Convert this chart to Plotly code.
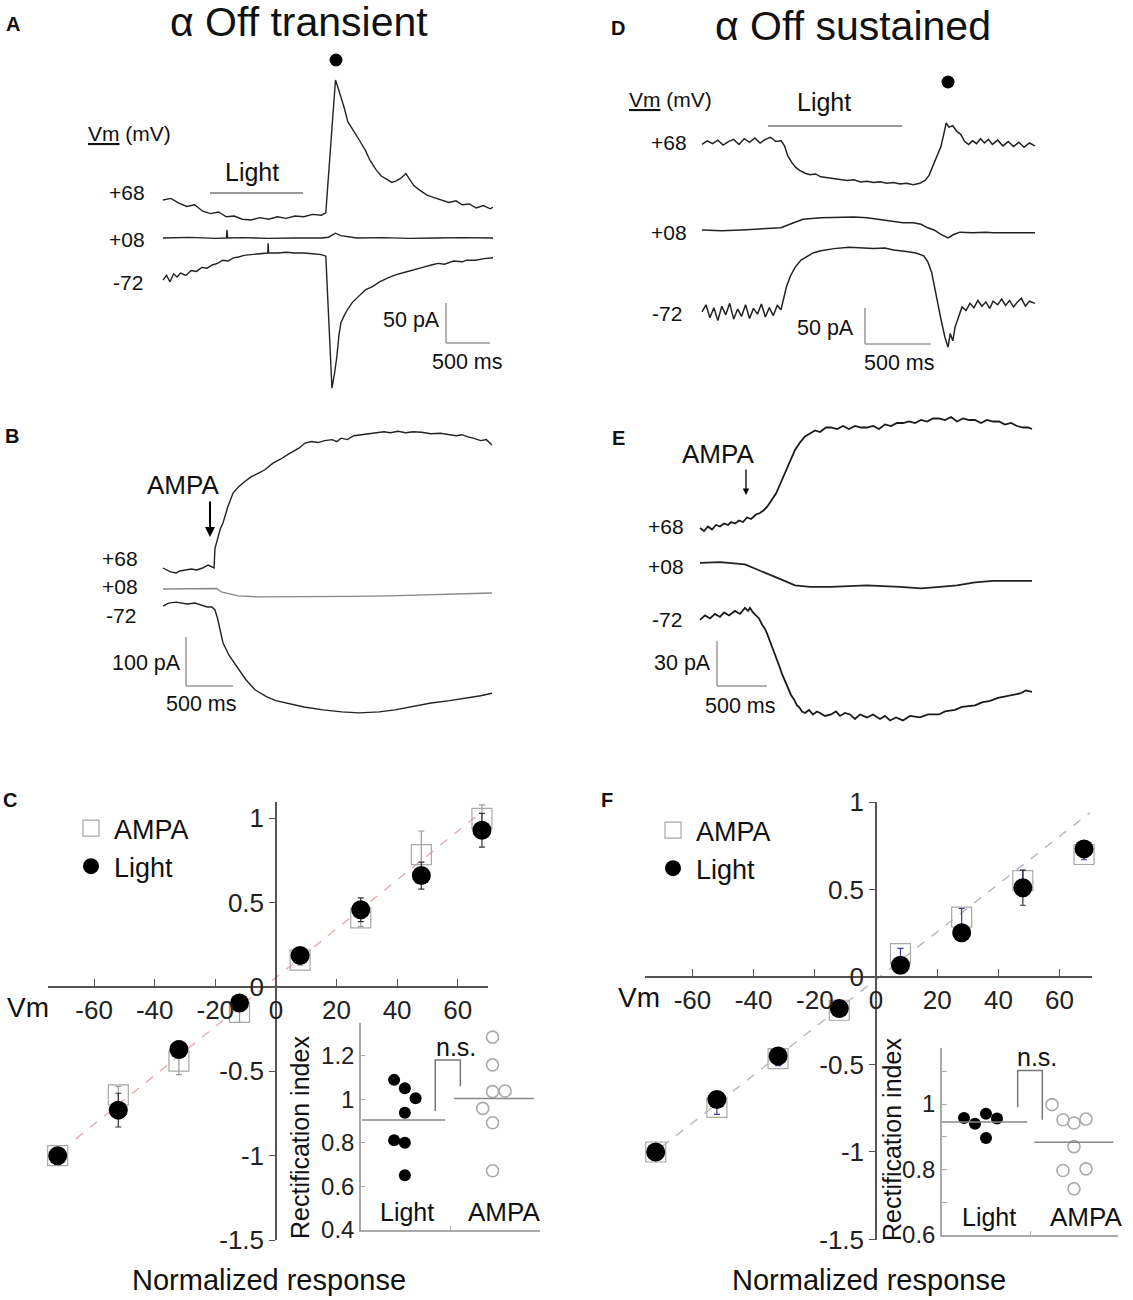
import plotly.graph_objects as go

W, H = 1133, 1300
FONT = "Liberation Sans, Arial, sans-serif"

# ---- current traces (time in ms, current in pA from each trace's own start) ----
# A: alpha Off transient, light response
a68_t = [0, 90, 180, 270, 360, 450, 540, 630, 720, 810, 900, 1000, 1100, 1200, 1300, 1400, 1500, 1600, 1700, 1800,
         1850, 1960, 1990, 2020, 2060, 2100, 2160, 2230, 2300, 2350, 2420, 2480, 2540, 2600, 2650, 2700, 2760, 2800,
         2850, 2920, 3000, 3080, 3160, 3250, 3330, 3400, 3480, 3560, 3640, 3720, 3750]
a68_i = [0, 2, -4, -8, -6, -14, -17, -15, -21, -20, -24, -25, -22, -24, -21, -23, -20, -21, -18, -19,
         -16, 150, 140, 130, 115, 98, 88, 75, 62, 50, 38, 30, 26, 22, 24, 27, 33, 26,
         18, 12, 6, 3, 0, -3, -1, -6, -5, -10, -7, -11, -9]
a08_t = [0, 300, 600, 720, 727, 735, 900, 1200, 1500, 1800, 1880, 1960, 2020, 2100, 2200, 2500, 2800, 3100, 3400, 3750]
a08_i = [0, 0.8, -0.5, 0, 10, 0, 0.5, -0.5, 0, 0, 1, 6, 3, 2, 0, 0.5, -0.5, 0, 0.5, 0]
a72_t = [0, 40, 80, 120, 160, 200, 260, 320, 380, 440, 500, 560, 620, 680, 740, 800, 860, 920, 1000, 1100,
         1190, 1195, 1200, 1300, 1400, 1500, 1600, 1700, 1800, 1850, 1890, 1920, 1950, 1975, 2000, 2022, 2060, 2100,
         2150, 2220, 2300, 2380, 2460, 2556, 2650, 2750, 2840, 2950, 3050, 3124, 3200, 3300, 3400, 3454, 3550, 3650, 3750]
a72_i = [-4, 2, -6, 4, 0, 5, 2, 8, 7, 12, 11, 15, 17, 21, 20, 24, 25, 27, 28, 29,
         30, 42, 30, 30, 31, 30, 30, 29, 28, 26, -60, -139, -120, -100, -72, -57, -48, -40,
         -32, -25, -16, -12, -6, -1, 3, 6, 9, 12, 15, 17, 16, 20, 19, 21, 21, 23, 24]

# B: alpha Off transient, AMPA puff
b68_t = [0, 40, 80, 138, 180, 240, 300, 360, 420, 479, 520, 543, 553, 580, 610, 638, 690, 745, 800, 860,
         936, 1000, 1080, 1170, 1250, 1330, 1400, 1450, 1511, 1580, 1650, 1720, 1800, 1850, 1894, 1960, 2030, 2100,
         2180, 2277, 2350, 2420, 2500, 2580, 2660, 2750, 2850, 2950, 3043, 3120, 3180, 3234, 3300, 3380, 3440, 3500]
b68_i = [0, -4, -8, -10, -6, -4, -2, -4, 0, 6, 3, 0, 40, 62, 80, 92, 125, 153, 165, 175,
         186, 192, 200, 214, 222, 232, 240, 245, 255, 258, 256, 260, 262, 258, 265, 262, 270, 272,
         274, 276, 278, 276, 279, 276, 278, 277, 274, 275, 272, 270, 272, 268, 265, 260, 262, 251]
b08_t = [0, 200, 400, 530, 570, 620, 700, 800, 1000, 1300, 1600, 2000, 2400, 2800, 3200, 3500]
b08_i = [0, 0.5, 0, 1, 1, -6, -10, -14, -16, -16, -16, -15, -14, -12, -10, -8]
b72_t = [0, 60, 138, 200, 260, 340, 400, 470, 520, 553, 580, 610, 638, 700, 787, 880, 978, 1100, 1200, 1319,
         1500, 1702, 1900, 2085, 2300, 2468, 2650, 2851, 3050, 3234, 3380, 3500]
b72_i = [0, 6, 8, 6, 4, 6, 2, -2, -2, -8, -25, -50, -75, -100, -124, -150, -171, -185, -193, -198,
         -206, -212, -216, -218, -216, -212, -206, -198, -193, -188, -183, -178]

# D: alpha Off sustained, light response
d68_t = [0, 40, 80, 120, 160, 200, 240, 280, 320, 360, 400, 440, 480, 520, 560, 600,
         625, 650, 680, 710, 740, 780, 820, 860, 900,
         950, 1000, 1050, 1100, 1150, 1200, 1250, 1300, 1350, 1400, 1450, 1500, 1550, 1600, 1650,
         1690, 1720, 1750, 1780, 1810, 1835, 1850, 1870, 1900, 1930, 1960, 1990, 2020, 2050, 2080, 2110, 2140, 2170, 2200,
         2240, 2280, 2320, 2360, 2400, 2440, 2480, 2523]
d68_i = [-2, 3, -1, 4, -3, 2, 5, -2, 6, 1, 7, 0, 5, 8, 2, 3,
         -4, -18, -27, -34, -38, -42, -44, -43, -47,
         -48, -49, -51, -52, -51, -54, -53, -55, -54, -56, -55, -57, -56, -58, -56,
         -52, -45, -32, -20, -5, 15, 28, 22, 24, 16, 12, 2, -2, 3, -1, 6, 0, 5, -2,
         4, -4, 2, -5, 1, -6, 0, -4]
d08_t = [0, 150, 300, 450, 598, 680, 765, 900, 1030, 1150, 1250, 1400, 1523, 1600, 1659, 1710, 1758, 1810, 1864, 1910,
         1955, 2050, 2150, 2205, 2350, 2523]
d08_i = [0, -1, 0, 1, 3, 9, 15, 17, 18, 18, 17, 13, 10, 10, 8, 3, 0, -6, -11, -6,
         -3, -4, -3, -4, -4, -4]
d72_t = [0, 30, 60, 90, 120, 150, 180, 210, 240, 270, 300, 330, 360, 390, 420, 450, 480, 510, 540, 570,
         598, 620, 640, 670, 705, 750, 800, 841, 900, 1000, 1114, 1200, 1300, 1386, 1450, 1550, 1620, 1680, 1710, 1740,
         1760, 1780, 1810, 1840, 1864, 1880, 1900, 1917, 1945, 1970, 2000, 2030, 2060, 2090, 2120, 2150, 2180, 2205,
         2240, 2270, 2300, 2330, 2360, 2390, 2420, 2450, 2480, 2523]
d72_i = [0, 10, -8, 6, -12, 8, -4, 12, -10, 4, -6, 10, -9, 5, -3, 11, -7, 6, -5, 9,
         3, 20, 35, 50, 62, 72, 78, 82, 85, 88, 90, 89, 88, 89, 86, 84, 82, 78, 70, 55,
         35, 17, -10, -35, -49, -30, -40, -21, -5, 7, 2, 12, 6, 16, 8, 14, 5, 15,
         10, 18, 9, 16, 7, 14, 19, 8, 15, 12]

# E: alpha Off sustained, AMPA puff
e68_t = [0, 40, 80, 120, 160, 200, 240, 280, 310, 350, 390, 430, 470, 510, 560, 600, 640, 670, 700, 730,
         760, 800, 850, 900, 950, 1000, 1050, 1100, 1150, 1200, 1260, 1310, 1370, 1430, 1490, 1550, 1610, 1670,
         1730, 1790, 1850, 1910, 1970, 2030, 2090, 2150, 2210, 2270, 2330, 2390, 2450, 2510, 2570, 2630, 2690,
         2750, 2810, 2870, 2930, 2990, 3050, 3110, 3170, 3230, 3280, 3320]
e68_i = [0, -2, 1, -1, 2, 1, 3, 2, 4, 3, 5, 4, 7, 6, 9, 10, 12, 14, 17, 20,
         23, 29, 37, 45, 52, 57, 61, 63, 65, 64, 67, 67, 66, 68, 66, 68, 67, 67,
         68, 66, 69, 68, 70, 70, 71, 70, 72, 71, 73, 73, 72, 74, 71, 73, 72,
         72, 70, 72, 71, 71, 69, 70, 68, 67, 67, 66]
e08_t = [0, 200, 450, 600, 810, 950, 1100, 1310, 1500, 1670, 2000, 2210, 2400, 2570, 2750, 2930, 3110, 3320]
e08_i = [0, 0.5, -1, -5, -11, -15, -16, -16, -15.5, -15, -16, -17, -16, -15, -13, -12, -12, -12]
e72_t = [0, 50, 100, 150, 200, 240, 290, 350, 400, 450, 480, 500, 530, 560, 590, 620, 650, 670, 700, 720,
         750, 770, 800, 820, 850, 880, 910, 940, 970, 990, 1020, 1050, 1090, 1130, 1170, 1200, 1250, 1310, 1360,
         1400, 1450, 1500, 1550, 1600, 1670, 1730, 1800, 1850, 1900, 1960, 2030, 2100, 2200, 2280, 2390, 2450,
         2550, 2620, 2750, 2820, 2900, 2980, 3050, 3110, 3200, 3260, 3320]
e72_i = [0, 3, 1, 4, 2, 5, 3, 6, 4, 8, 6, 8, 5, 3, 1, -3, -6, -9, -14, -18,
         -23, -27, -32, -36, -41, -45, -50, -53, -57, -58, -61, -62, -60, -63, -61, -62, -64, -63, -61,
         -64, -62, -63, -66, -63, -65, -63, -66, -64, -67, -65, -67, -64, -65, -63, -63, -61,
         -60, -58, -57, -55, -54, -52, -51, -50, -49, -47, -48]

# ---- I-V relations ----
vm = [-72, -52, -32, -12, 8, 28, 48, 68]
vm_ticks = [-60, -40, -20, 0, 20, 40, 60]
resp_ticks = [1, 0.5, 0, -0.5, -1, -1.5]

c_light = [-1.0, -0.73, -0.37, -0.095, 0.187, 0.458, 0.661, 0.93]
c_light_err = [0.02, 0.1, 0.05, 0.03, 0.04, 0.07, 0.08, 0.1]
c_ampa = [-1.0, -0.64, -0.44, -0.15, 0.16, 0.41, 0.785, 1.0]
c_ampa_err = [0.02, 0.05, 0.08, 0.06, 0.03, 0.05, 0.14, 0.08]
c_fit_x = [-66, 68]
c_fit_y = [-0.9, 1.04]

f_light = [-1.0, -0.70, -0.452, -0.18, 0.067, 0.253, 0.51, 0.732]
f_light_err = [0.02, 0.03, 0.03, 0.02, 0.02, 0.03, 0.1, 0.03]
f_ampa = [-1.0, -0.745, -0.466, -0.19, 0.133, 0.342, 0.551, 0.70]
f_ampa_err = [0.02, 0.04, 0.04, 0.02, 0.03, 0.05, 0.06, 0.03]
f_fit_x = [-70, 70]
f_fit_y = [-0.97, 0.94]

# ---- rectification index insets ----
ri_c_light = [1.089, 1.051, 1.005, 0.938, 0.812, 0.80, 0.651]
ri_c_light_x = [0.37, 0.49, 0.61, 0.49, 0.37, 0.49, 0.49]
ri_c_ampa = [1.285, 1.158, 1.035, 1.038, 0.958, 0.892, 0.672]
ri_c_ampa_x = [1.47, 1.47, 1.47, 1.61, 1.36, 1.47, 1.47]
ri_c_means = [0.905, 1.003]

ri_f_light = [0.957, 0.940, 0.970, 0.956, 0.896]
ri_f_light_x = [0.25, 0.375, 0.5, 0.625, 0.5]
ri_f_ampa = [0.998, 0.952, 0.942, 0.954, 0.870, 0.797, 0.802, 0.741]
ri_f_ampa_x = [1.25, 1.375, 1.5, 1.636, 1.5, 1.375, 1.636, 1.5]
ri_f_means = [0.945, 0.883]


def xd(l, r):
    return [l / W, r / W]


def yd(t, b):
    return [1 - b / H, 1 - t / H]


def px(x, y):
    return x / W, 1 - y / H


# trace panels: pixel origin of t=0 / first baseline, scales, box, trace spacing, line width
panels = {
    "A": dict(ax=("x", "y"), x0=163, y0=200, pxms=0.088, pxpa=0.8, box=(100, 40, 520, 400),
              offsets=[0, -47.5, -96.25], bar=(446, 343, 50), lw=1.4,
              traces=[(a68_t, a68_i, "#222"), (a08_t, a08_i, "#222"), (a72_t, a72_i, "#222")]),
    "B": dict(ax=("x2", "y2"), x0=163, y0=568, pxms=0.094, pxpa=0.49, box=(100, 420, 520, 760),
              offsets=[0, -42.9, -77.6], bar=(186, 686, 100), lw=1.4,
              traces=[(b68_t, b68_i, "#222"), (b08_t, b08_i, "#888"), (b72_t, b72_i, "#222")]),
    "D": dict(ax=("x3", "y3"), x0=702, y0=143, pxms=0.132, pxpa=0.72, box=(640, 40, 1100, 400),
              offsets=[0, -120.8, -234.7], bar=(865, 344, 50), lw=1.5,
              traces=[(d68_t, d68_i, "#222"), (d08_t, d08_i, "#222"), (d72_t, d72_i, "#222")]),
    "E": dict(ax=("x4", "y4"), x0=700, y0=528, pxms=0.1, pxpa=1.5, box=(640, 400, 1100, 760),
              offsets=[0, -23.3, -61.3], bar=(717, 686, 30), lw=1.8,
              traces=[(e68_t, e68_i, "#1a1a1a"), (e08_t, e08_i, "#222"), (e72_t, e72_i, "#1a1a1a")]),
}


def to_t(p, xp):
    return (xp - p["x0"]) / p["pxms"]


def to_pa(p, yp):
    return (p["y0"] - yp) / p["pxpa"]


fig = go.Figure()
layout = {}
shapes = []
annotations = []

for key, p in panels.items():
    xa, ya = p["ax"]
    for (t, i, col), off in zip(p["traces"], p["offsets"]):
        fig.add_trace(go.Scatter(x=t, y=[v + off for v in i], xaxis=xa, yaxis=ya, mode="lines",
                                 line=dict(color=col, width=p["lw"]), showlegend=False, hoverinfo="skip"))
    l, top, r, b = p["box"]
    layout[xa[0] + "axis" + xa[1:]] = dict(domain=xd(l, r), range=[to_t(p, l), to_t(p, r)],
                                           visible=False, anchor=ya, automargin=False)
    layout[ya[0] + "axis" + ya[1:]] = dict(domain=yd(top, b), range=[to_pa(p, b), to_pa(p, top)],
                                           visible=False, anchor=xa, automargin=False)
    # scale bar: 500 ms x bar pA
    bx, by, bpa = p["bar"]
    t0, y0 = to_t(p, bx), to_pa(p, by)
    for x1, y1, x2, y2 in [(t0, y0, t0, y0 + bpa), (t0, y0, t0 + 500, y0)]:
        shapes.append(dict(type="line", xref=xa, yref=ya, x0=x1, y0=y1, x1=x2, y1=y2,
                           line=dict(color="#9a9a9a", width=1.5)))

# light bars and response dots
for key, on, off, ybar, tdot, ydot in [("A", 534, 1590, 193, 1966, 60), ("D", 500, 1515, 126, 1864, 82)]:
    p = panels[key]
    xa, ya = p["ax"]
    shapes.append(dict(type="line", xref=xa, yref=ya, x0=on, x1=off, y0=to_pa(p, ybar), y1=to_pa(p, ybar),
                       line=dict(color="#777", width=1.5)))
    fig.add_trace(go.Scatter(x=[tdot], y=[to_pa(p, ydot)], xaxis=xa, yaxis=ya, mode="markers",
                             marker=dict(color="black", size=13), showlegend=False, hoverinfo="skip"))

# AMPA puff arrows
for key, tpuff, ytip, alen, aw in [("B", 500, 537, 37, 2), ("E", 460, 495, 27, 1.3)]:
    p = panels[key]
    xa, ya = p["ax"]
    annotations.append(dict(x=tpuff, y=to_pa(p, ytip), xref=xa, yref=ya, ax=0, ay=-alen, text="",
                            showarrow=True, arrowhead=2, arrowsize=1, arrowwidth=aw, arrowcolor="black"))


# ---- I-V panels ----
def iv_panel(xa, ya, light, light_err, ampa, ampa_err, fit_x, fit_y, fit_col, ampa_err_col, legend):
    fig.add_trace(go.Scatter(x=fit_x, y=fit_y, xaxis=xa, yaxis=ya, mode="lines",
                             line=dict(color=fit_col, width=1.5, dash="dash"), showlegend=False, hoverinfo="skip"))
    fig.add_trace(go.Scatter(x=vm, y=ampa, xaxis=xa, yaxis=ya, mode="markers", name="AMPA", legend=legend,
                             marker=dict(symbol="square-open", size=20, color="#a8a8a8", line=dict(width=1.2)),
                             error_y=dict(type="data", array=ampa_err, color=ampa_err_col, thickness=1.2, width=3),
                             cliponaxis=False))
    fig.add_trace(go.Scatter(x=vm, y=light, xaxis=xa, yaxis=ya, mode="markers", name="Light", legend=legend,
                             marker=dict(symbol="circle", size=19, color="black"),
                             error_y=dict(type="data", array=light_err, color="#333", thickness=1.2, width=3),
                             cliponaxis=False))


iv_panel("x5", "y5", c_light, c_light_err, c_ampa, c_ampa_err, c_fit_x, c_fit_y, "#e2b4b4", "#999", "legend")
iv_panel("x7", "y7", f_light, f_light_err, f_ampa, f_ampa_err, f_fit_x, f_fit_y, "#bbbbbb", "#3a3ab0", "legend2")

tick_font = dict(family=FONT, size=26, color="#222")
vm_text = [str(v) for v in vm_ticks]
resp_text = ["1", "0.5", "0", "-0.5", "-1", "-1.5"]
for xa, ya, xdom, xr, xpos, ydom, yr, ypos in [
    ("xaxis5", "yaxis5", xd(48, 488), [-75.2, 70], 987, yd(802, 1240), [-1.5, 1.097], 276),
    ("xaxis7", "yaxis7", xd(645, 1092), [-75.5, 70.6], 977, yd(802, 1240), [-1.503, 1.0], 876),
]:
    layout[xa] = dict(domain=xdom, range=xr, anchor="free", position=1 - xpos / H, showline=True,
                      linecolor="#555", linewidth=1.5, ticks="inside", ticklen=7, tickcolor="#555",
                      tickvals=vm_ticks, ticktext=vm_text, tickfont=tick_font, showgrid=False, zeroline=False,
                      automargin=False)
    layout[ya] = dict(domain=ydom, range=yr, anchor="free", position=ypos / W, showline=True,
                      linecolor="#555", linewidth=1.5, ticks="outside", ticklen=6, tickcolor="#555",
                      tickvals=resp_ticks, ticktext=resp_text, tickfont=tick_font, showgrid=False, zeroline=False,
                      automargin=False)


# ---- rectification insets ----
def inset(xa, ya, lx, ly, ampx, ampy, means, mean_ext, bracket_x, bracket_y):
    fig.add_trace(go.Scatter(x=lx, y=ly, xaxis=xa, yaxis=ya, mode="markers", showlegend=False,
                             marker=dict(color="black", size=12), hoverinfo="skip", cliponaxis=False))
    fig.add_trace(go.Scatter(x=ampx, y=ampy, xaxis=xa, yaxis=ya, mode="markers", showlegend=False,
                             marker=dict(symbol="circle-open", color="#aaa", size=12, line=dict(width=1.6)),
                             hoverinfo="skip", cliponaxis=False))
    for m, ext in zip(means, mean_ext):
        fig.add_trace(go.Scatter(x=ext, y=[m, m], xaxis=xa, yaxis=ya, mode="lines", showlegend=False,
                                 line=dict(color="#888", width=1.5), hoverinfo="skip"))
    fig.add_trace(go.Scatter(x=bracket_x, y=bracket_y, xaxis=xa, yaxis=ya, mode="lines", showlegend=False,
                             line=dict(color="#777", width=1.5), hoverinfo="skip"))


inset("x6", "y6", ri_c_light_x, ri_c_light, ri_c_ampa_x, ri_c_ampa, ri_c_means,
      [[0.01, 0.94], [1.04, 1.93]], [0.83, 0.83, 1.11, 1.11], [0.946, 1.18, 1.18, 1.06])
inset("x8", "y8", ri_f_light_x, ri_f_light, ri_f_ampa_x, ri_f_ampa, ri_f_means,
      [[0.0, 0.97], [1.05, 1.95]], [0.86, 0.86, 1.14, 1.14], [0.99, 1.102, 1.102, 0.952])

inset_font = dict(family=FONT, size=24, color="#222")
layout["xaxis6"] = dict(domain=xd(361, 540), range=[0, 2], anchor="y6", showline=True, linecolor="#aaa",
                        linewidth=1.5, tickvals=[1, 2], ticks="inside", ticklen=4, tickcolor="#aaa",
                        showticklabels=False, showgrid=False, zeroline=False, automargin=False)
layout["yaxis6"] = dict(domain=yd(1023, 1230), range=[0.4, 1.35], anchor="x6", showline=True, linecolor="#aaa",
                        linewidth=1.5, tickvals=[0.4, 0.6, 0.8, 1.0, 1.2], ticktext=["0.4", "0.6", "0.8", "1", "1.2"],
                        ticks="inside", ticklen=4, tickcolor="#aaa", tickfont=inset_font,
                        showgrid=False, zeroline=False, automargin=False)
layout["xaxis8"] = dict(domain=xd(942, 1118), range=[0, 2], anchor="y8", showline=True, linecolor="#aaa",
                        linewidth=1.5, tickvals=[1, 2], ticks="inside", ticklen=4, tickcolor="#aaa",
                        showticklabels=False, showgrid=False, zeroline=False, automargin=False)
layout["yaxis8"] = dict(domain=yd(1048, 1235), range=[0.6, 1.171], anchor="x8", showline=True, linecolor="#aaa",
                        linewidth=1.5, tickvals=[0.6, 0.7, 0.8, 0.9, 1.0, 1.1],
                        ticktext=["0.6", "", "0.8", "", "1", ""], ticks="inside", ticklen=5, tickcolor="#aaa",
                        tickfont=inset_font, showgrid=False, zeroline=False, automargin=False)


# ---- texts (pixel positions) ----
def txt(x, y, s, size=19, xanchor="center", bold=False, angle=0):
    xx, yy = px(x, y)
    annotations.append(dict(x=xx, y=yy, xref="paper", yref="paper", text=f"<b>{s}</b>" if bold else s,
                            showarrow=False, xanchor=xanchor, yanchor="middle", textangle=angle,
                            font=dict(family=FONT, size=size, color="#111")))


txt(299, 22, "\u03b1 Off transient", 41)
txt(853, 26, "\u03b1 Off sustained", 41)
for letter, x, y in [("A", 13, 24), ("D", 618, 28), ("B", 12, 436), ("E", 619, 438), ("C", 10, 800), ("F", 607, 800)]:
    txt(x, y, letter, 20, "center", bold=True)

# A
txt(86, 133, "<u>Vm</u> (mV)", 21, "left")
txt(252, 172, "Light", 25)
for s, x, y in [("+68", 147, 193), ("+08", 147, 239), ("-72", 145, 283)]:
    txt(x, y, s, 21, "right")
txt(442, 320, "50 pA", 21.5, "right")
txt(467, 362, "500 ms", 21.5)
# D
txt(627, 100, "<u>Vm</u> (mV)", 21, "left")
txt(824, 102, "Light", 25)
for s, x, y in [("+68", 689, 143), ("+08", 689, 233), ("-72", 684, 314)]:
    txt(x, y, s, 21, "right")
txt(856, 328, "50 pA", 21.5, "right")
txt(899, 363, "500 ms", 21.5)
# B
txt(183, 485, "AMPA", 26)
for s, x, y in [("+68", 140, 559), ("+08", 140, 586), ("-72", 138, 615)]:
    txt(x, y, s, 21, "right")
txt(183, 663, "100 pA", 21.5, "right")
txt(201, 704, "500 ms", 21.5)
# E
txt(718, 454, "AMPA", 26)
for s, x, y in [("+68", 686, 526), ("+08", 686, 566), ("-72", 684, 619)]:
    txt(x, y, s, 21, "right")
txt(713, 663, "30 pA", 21.5, "right")
txt(740, 706, "500 ms", 21.5)
# C
txt(5, 1007, "Vm", 28, "left")
txt(269, 1280, "Normalized response", 29)
txt(300, 1138, "Rectification index", 25, angle=-90)
txt(456, 1047, "n.s.", 25)
txt(407, 1212, "Light", 25)
txt(504, 1212, "AMPA", 26)
# F
txt(616, 997, "Vm", 28, "left")
txt(869, 1280, "Normalized response", 29)
txt(892, 1140, "Rectification index", 25, angle=-90)
txt(1037, 1057, "n.s.", 25)
txt(989, 1217, "Light", 25)
txt(1086, 1217, "AMPA", 26)

legend_style = dict(xanchor="left", yanchor="top", bgcolor="rgba(0,0,0,0)", itemwidth=36,
                    font=dict(family=FONT, size=27, color="#111"), tracegroupgap=0)
lx, ly = px(68, 804)
layout["legend"] = dict(x=lx, y=ly, **legend_style)
lx, ly = px(650, 806)
layout["legend2"] = dict(x=lx, y=ly, **legend_style)

fig.update_layout(width=W, height=H, margin=dict(l=0, r=0, t=0, b=0, autoexpand=False), paper_bgcolor="white",
                  plot_bgcolor="rgba(0,0,0,0)", font=dict(family=FONT), shapes=shapes,
                  annotations=annotations, **layout)
fig.write_html("out.html", config={"displayModeBar": False},
               post_script="document.body.style.margin='0';")
